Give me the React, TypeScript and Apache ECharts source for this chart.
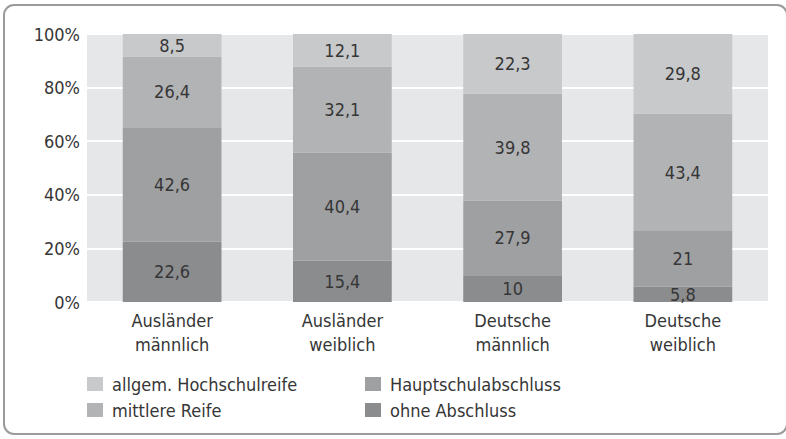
import React, { useEffect, useRef } from "react";
import * as echarts from "echarts";

const categories = ["Ausländer\nmännlich", "Ausländer\nweiblich", "Deutsche\nmännlich", "Deutsche\nweiblich"];
const ohneAbschluss = [22.6, 15.4, 10, 5.8];
const hauptschulabschluss = [42.6, 40.4, 27.9, 21];
const mittlereReife = [26.4, 32.1, 39.8, 43.4];
const hochschulreife = [8.5, 12.1, 22.3, 29.8];
const yTicks = [0, 20, 40, 60, 80, 100];

const FONT = "'DejaVu Sans Condensed', 'Liberation Sans', sans-serif";
const TXT = "#363636";
const FS = 18;

const fmt = (p: any) => String(p.value).replace(".", ",");

export default function App() {
  const ref = useRef<HTMLDivElement>(null);
  useEffect(() => {
    if (!ref.current) return;
    const chart = echarts.init(ref.current, undefined, { renderer: "svg" });
    const mk = (name: string, data: number[], color: string) => ({
      name,
      type: "bar",
      stack: "total",
      data,
      barWidth: "58%",
      itemStyle: { color },
      label: {
        show: true,
        position: "inside",
        color: TXT,
        fontSize: FS,
        fontFamily: FONT,
        formatter: fmt,
      },
    });
    const legendText = { color: TXT, fontSize: FS, fontFamily: FONT, lineHeight: 20, padding: [0, 0, 0, 4] };
    chart.setOption({
      animation: false,
      textStyle: { fontFamily: FONT },
      graphic: [
        {
          type: "rect",
          shape: { x: 4, y: 5, width: 783, height: 429, r: 10 },
          style: { fill: "none", stroke: "#9b9b9b", lineWidth: 2 },
        },
      ],
      grid: {
        left: 87,
        right: 18,
        top: 34,
        bottom: 137,
        show: true,
        backgroundColor: "#e6e7e8",
        borderWidth: 0,
      },
      legend: [
        {
          data: ["allgem. Hochschulreife", "mittlere Reife"],
          orient: "vertical",
          left: 87,
          top: 374,
          padding: 0,
          itemWidth: 16,
          itemHeight: 14,
          itemGap: 6,
          icon: "rect",
          textStyle: legendText,
        },
        {
          data: ["Hauptschulabschluss", "ohne Abschluss"],
          orient: "vertical",
          left: 365,
          top: 374,
          padding: 0,
          itemWidth: 16,
          itemHeight: 14,
          itemGap: 6,
          icon: "rect",
          textStyle: legendText,
        },
      ],
      xAxis: {
        type: "category",
        data: categories,
        axisLine: { show: false },
        axisTick: { show: false },
        axisLabel: { color: TXT, fontSize: FS, fontFamily: FONT, lineHeight: 24, margin: 6 },
      },
      yAxis: {
        type: "value",
        min: yTicks[0],
        max: yTicks[yTicks.length - 1],
        interval: 20,
        axisLine: { show: false },
        axisTick: { show: false },
        axisLabel: { color: TXT, fontSize: FS, fontFamily: FONT, margin: 7, formatter: "{value}%" },
        splitLine: { show: true, lineStyle: { color: "#ffffff", width: 2 } },
      },
      series: [
        mk("ohne Abschluss", ohneAbschluss, "#8b8c8e"),
        mk("Hauptschulabschluss", hauptschulabschluss, "#9fa0a2"),
        mk("mittlere Reife", mittlereReife, "#b2b3b5"),
        mk("allgem. Hochschulreife", hochschulreife, "#c8c9cb"),
      ],
    });
    return () => chart.dispose();
  }, []);
  return (
    <div
      ref={ref}
      style={{ position: "fixed", left: 0, top: 0, width: 786, height: 439, background: "#fff" }}
    />
  );
}
